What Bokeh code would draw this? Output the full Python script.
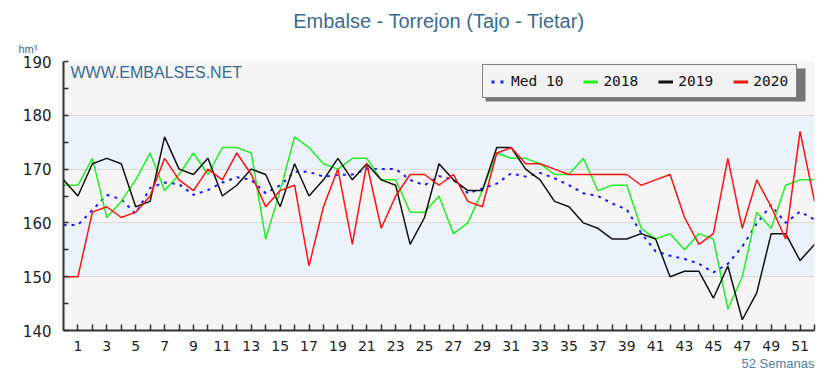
from bokeh.plotting import figure
from bokeh.models import (Range1d, FixedTicker, BoxAnnotation, Label, Legend,
                          LegendItem, ColumnDataSource, Title)
from bokeh.embed import file_html
from bokeh.resources import INLINE

weeks = list(range(0, 53))
med10 = [159.6, 159.6, 162.4, 165.2, 164.4, 161.7, 166.5, 167.5, 167.2, 165.2,
         166.1, 167.5, 168.5, 168.0, 165.5, 167.0, 169.5, 169.5, 168.6, 168.9,
         169.0, 170.0, 170.0, 170.0, 168.0, 167.0, 168.7, 168.0, 165.5, 166.4,
         167.3, 169.2, 168.6, 169.3, 168.3, 167.0, 165.5, 165.0, 163.6, 162.5,
         158.1, 154.7, 153.9, 153.3, 152.4, 150.8, 152.4, 155.6, 159.9, 163.3,
         160.0, 162.1, 160.6]
y2018 = [167, 167, 172, 161, 164, 168, 173, 166, 169, 173,
         169, 174, 174, 173, 157, 166, 176, 174, 171, 170,
         172, 172, 168, 168, 162, 162, 165, 158, 160, 166,
         173, 172, 172, 171, 169, 169, 172, 166, 167, 167,
         159, 157, 158, 155, 158, 157, 144, 150, 162, 159,
         167, 168, 168]
y2019 = [168, 165, 171, 172, 171, 163, 164, 176, 170, 169,
         172, 165, 167, 170, 169, 163, 171, 165, 168, 172,
         168, 171, 168, 167, 156, 161, 171, 168, 166, 166,
         174, 174, 170, 168, 164, 163, 160, 159, 157, 157,
         158, 157, 150, 151, 151, 146, 152, 142, 147, 158,
         158, 153, 156]
y2020 = [150, 150, 162, 163, 161, 162, 165, 172, 168, 166,
         170, 168, 173, 169, 163, 166, 167, 152, 163, 170,
         156, 171, 159, 165, 169, 169, 167, 169, 164, 163,
         173, 174, 171, 171, 170, 169, 169, 169, 169, 169,
         167, 168, 169, 161, 156, 158, 172, 159, 168, 163,
         157, 177, 164]
series_names = ["Med 10", "2018", "2019", "2020"]
x_label_weeks = list(range(1, 53, 2))
x_minor_weeks = list(range(2, 53, 2))
y_major = [140, 150, 160, 170, 180, 190]
y_minor = [145, 155, 165, 175, 185]
blue_bands = [(150, 160), (170, 180)]

TXT_BLUE = "#3b6a92"
C_MED, C_A, C_B, C_C = "#1a1aff", "#22ee22", "#111111", "#ff1111"

src = ColumnDataSource(dict(w=weeks, med=med10, a=y2018, b=y2019, c=y2020))

p = figure(width=825, height=377, output_backend="svg", toolbar_location=None,
           x_range=Range1d(0, 52), y_range=Range1d(140, 190),
           min_border_left=63, min_border_right=11, min_border_top=61,
           min_border_bottom=47)
p.background_fill_color = "#f5f5f5"
p.border_fill_color = "white"
p.outline_line_color = None

# titles
p.title.text = "Embalse - Torrejon (Tajo - Tietar)"
p.title.align = "center"
p.title.offset = -16
p.title.text_font = "Liberation Sans"
p.title.text_font_size = "20px"
p.title.text_font_style = "normal"
p.title.text_color = TXT_BLUE
p.title.standoff = 4
p.add_layout(Title(text="hm³", align="left", offset=-45, text_font="Liberation Sans",
                   text_font_size="11px", text_font_style="normal",
                   text_color=TXT_BLUE, standoff=14), "above")
p.add_layout(Title(text="52 Semanas", align="right", text_font="Liberation Sans",
                   text_font_size="13px", text_font_style="normal",
                   text_color="#4a7fae", standoff=0), "below")

for lo, hi in blue_bands:
    p.add_layout(BoxAnnotation(bottom=lo, top=hi, fill_color="#eaf3fb",
                               fill_alpha=1, line_color=None, level="image"))

p.xgrid.visible = False
p.ygrid.ticker = FixedTicker(ticks=y_major)
p.ygrid.grid_line_color = "#d9d9d9"
p.ygrid.grid_line_width = 1

# axes
p.xaxis.ticker = FixedTicker(ticks=x_label_weeks, minor_ticks=x_minor_weeks)
p.yaxis.ticker = FixedTicker(ticks=y_major, minor_ticks=y_minor)
for ax in (p.xaxis[0], p.yaxis[0]):
    ax.axis_line_color = "#333333"
    ax.axis_line_width = 2
    ax.major_tick_line_color = "#333333"
    ax.minor_tick_line_color = "#333333"
    ax.major_tick_line_width = 1.5
    ax.minor_tick_line_width = 1.5
    ax.major_tick_out = 0
    ax.minor_tick_out = 0
    ax.major_label_text_font = "DejaVu Sans"
    ax.major_label_text_color = "#222222"
p.xaxis.major_label_text_font_size = "14px"
p.yaxis.major_label_text_font_size = "15px"
p.xaxis.major_tick_in = 6
p.xaxis.minor_tick_in = 6
p.yaxis.major_tick_in = 5
p.yaxis.minor_tick_in = 5
p.xaxis.major_label_standoff = 10
p.yaxis.major_label_standoff = 12

# data lines
r_med = p.line("w", "med", source=src, color=C_MED, line_width=2, line_dash="3 5")
r_a = p.line("w", "a", source=src, color=C_A, line_width=1.5)
r_b = p.line("w", "b", source=src, color=C_B, line_width=1.5)
r_c = p.line("w", "c", source=src, color=C_C, line_width=1.5)

# legend-only glyphs (thicker), hidden in the plot area
lg_med = p.line("w", "med", source=src, color=C_MED, line_width=3, line_dash="3 6", visible=False)
lg_a = p.line("w", "a", source=src, color=C_A, line_width=3, visible=False)
lg_b = p.line("w", "b", source=src, color=C_B, line_width=3, visible=False)
lg_c = p.line("w", "c", source=src, color=C_C, line_width=3, visible=False)

# legend shadow
p.add_layout(BoxAnnotation(left=(485 - 63) / 751 * 52, right=(805 - 63) / 751 * 52,
                           top=140 + (330 - 68) / 269 * 50,
                           bottom=140 + (330 - 101) / 269 * 50,
                           fill_color="#555555", fill_alpha=0.8, line_color=None))

legend = Legend(items=[LegendItem(label=series_names[0], renderers=[lg_med]),
                       LegendItem(label=series_names[1], renderers=[lg_a]),
                       LegendItem(label=series_names[2], renderers=[lg_b]),
                       LegendItem(label=series_names[3], renderers=[lg_c])],
                orientation="horizontal", location=(419, 232))
legend.label_text_font = "DejaVu Sans Mono"
legend.label_text_font_size = "14.5px"
legend.label_text_color = "#111111"
legend.glyph_width = 15
legend.glyph_height = 13
legend.label_height = 13
legend.label_standoff = 5
legend.spacing = 20
legend.padding = 8
legend.margin = 0
legend.border_line_color = "#111111"
legend.border_line_width = 1.5
legend.background_fill_color = "#f2f2f2"
legend.background_fill_alpha = 1
p.add_layout(legend)

p.add_layout(Label(x=(70 - 63) / 751 * 52, y=140 + (330 - 72) / 269 * 50,
                   text="WWW.EMBALSES.NET", text_align="left",
                   text_baseline="middle", text_font="Liberation Sans",
                   text_font_size="16px", text_color=TXT_BLUE))

open("out.html", "w").write(file_html(p, INLINE))
